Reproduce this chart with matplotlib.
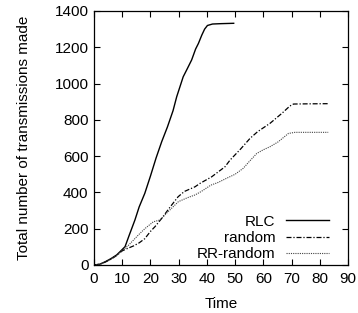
import matplotlib
matplotlib.use('Agg')
import matplotlib.pyplot as plt

# values
rlc_t = [0, 2, 4, 6, 8, 9.2, 11, 12.5, 14.5, 16, 18, 20, 22, 24, 26, 28, 29.3,
         31.6, 33, 34.6, 36, 37, 38.2, 39.2, 40.2, 42, 45, 49.5]
rlc_n = [0, 4, 18, 35, 55, 73, 101, 165, 248, 320, 395, 490, 590, 680, 760, 850, 927,
         1037, 1080, 1130, 1190, 1221, 1267, 1300, 1320, 1328, 1330, 1332]

rand_t = [0, 2, 4, 6, 8, 10, 12, 14, 16, 18, 20, 21.6, 24, 27, 29.8, 32, 35.8, 37.6,
          41.7, 46.4, 48.2, 52, 55.3, 58, 62.4, 66.6, 69.4, 70.7, 75, 83]
rand_n = [0, 4, 16, 32, 52, 78, 92, 105, 122, 145, 185, 211, 257, 320, 376, 405, 431, 450,
          486, 541, 578, 640, 698, 735, 781, 836, 876, 887, 888, 889]

rr_t = [0, 2, 4, 6, 8, 10, 12, 15.7, 18, 21, 23.4, 26, 29.9, 33, 35.8, 38, 41.4, 44,
        47, 50, 52.9, 55, 57.7, 60, 62.4, 65.3, 68.9, 71.2, 83]
rr_n = [0, 4, 16, 32, 52, 80, 105, 165, 200, 238, 248, 290, 349, 370, 386, 405, 440, 455,
        478, 500, 533, 570, 615, 635, 652, 679, 725, 731, 731]

x_ticks = list(range(0, 91, 10))
y_ticks = list(range(0, 1401, 200))

plt.rcParams['font.family'] = ['Liberation Sans', 'DejaVu Sans']
plt.rcParams['font.size'] = 11

fig = plt.figure(figsize=(3.58, 3.13), dpi=100)
ax = fig.add_axes([0.2626, 0.1534, 0.7094, 0.8116])

ax.plot(rlc_t, rlc_n, color='black', lw=1.0, ls='-', label='RLC')
ax.plot(rand_t, rand_n, color='black', lw=0.9, ls=(0, (4, 1.5, 1, 1.5)), label='random')
ax.plot(rr_t, rr_n, color='#444444', lw=0.8, ls=(0, (1, 1)), label='RR-random')

ax.set_xlim(0, 90)
ax.set_ylim(0, 1400)
ax.set_xticks(x_ticks)
ax.set_yticks(y_ticks)
ax.tick_params(direction='in', top=True, right=True, length=4, width=0.8,
               labelsize=11)
ax.tick_params(axis='y', pad=4)
ax.tick_params(axis='x', pad=5)
for s in ax.spines.values():
    s.set_linewidth(0.9)

ax.set_xlabel('Time', fontsize=11, labelpad=8)
ax.set_ylabel('Total number of transmissions made', fontsize=11, labelpad=17)

leg = ax.legend(loc='lower right', bbox_to_anchor=(0.938, 0.003), frameon=False,
                markerfirst=False, handlelength=2.8, handletextpad=0.7,
                labelspacing=0.15, borderaxespad=0.0, borderpad=0.2, fontsize=11)

fig.savefig('out.png', dpi=100)
